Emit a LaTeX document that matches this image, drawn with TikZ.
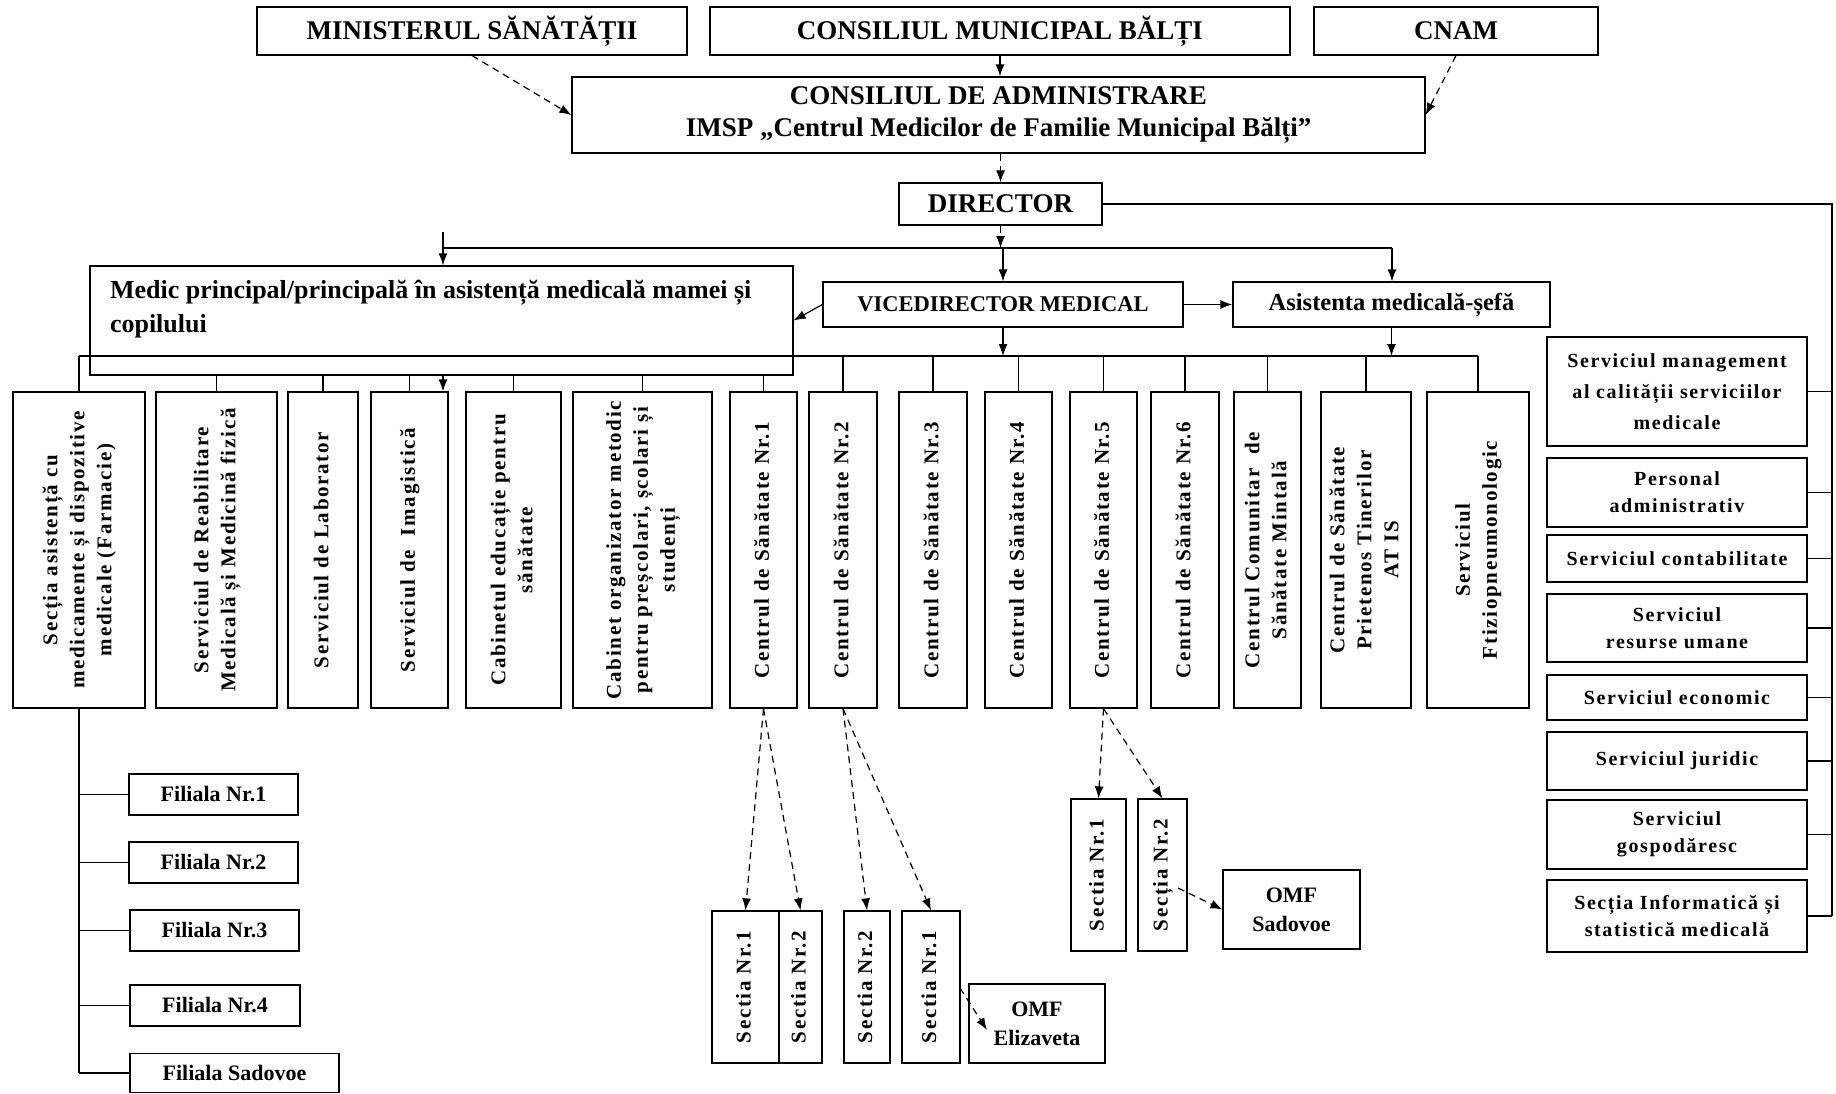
\documentclass[tikz,border=0pt]{standalone}
\usepackage{fontspec}
\setmainfont{Liberation Serif}
\newfontfamily\spaced{Liberation Serif}[LetterSpace=8]
\usetikzlibrary{arrows.meta}
\newcommand{\vtext}[1]{\rotatebox{90}{\begin{tabular}{@{}c@{}}#1\end{tabular}}}
\tikzset{
  base/.style={draw, line width=1.2pt, inner sep=0pt, align=center},
  topbox/.style={base, font=\bfseries\fontsize{27}{32}\selectfont},
  vbox/.style={base, minimum height=316pt, font=\spaced\bfseries\fontsize{21}{27}\selectfont},
  rbox/.style={base, minimum width=260pt, font=\spaced\bfseries\fontsize{20}{27}\selectfont},
  filbox/.style={base, font=\bfseries\fontsize{22}{29}\selectfont},
  sbox/.style={base, minimum height=152pt, font=\spaced\bfseries\fontsize{21}{25}\selectfont},
  conn/.style={line width=1.2pt},
  arr/.style={conn, -{Latex[length=12pt,width=9pt]}},
  darr/.style={arr, dash pattern=on 7pt off 5pt},
}
\begin{document}
\begin{tikzpicture}[x=1pt,y=-1pt]
\fill[white] (0,0) rectangle (1836,1094);
\useasboundingbox (0,0) rectangle (1836,1094);

% top row
\node[topbox, minimum width=430pt, minimum height=48pt] (min) at (472,31) {MINISTERUL SĂNĂTĂȚII};
\node[topbox, minimum width=580pt, minimum height=48pt] (cmb) at (1000,31) {CONSILIUL MUNICIPAL BĂLȚI};
\node[topbox, minimum width=284pt, minimum height=48pt] (cnam) at (1456,31) {CNAM};
\node[topbox, minimum width=853pt, minimum height=76pt] (cda) at (998.5,115) {CONSILIUL DE ADMINISTRARE\\IMSP „Centrul Medicilor de Familie Municipal Bălți”};
\node[topbox, minimum width=203pt, minimum height=42pt] (dir) at (1000.5,204) {DIRECTOR};

% second level
\node[base, font=\bfseries\fontsize{26}{34}\selectfont, inner xsep=20pt] (medic) at (441.5,320.5)
  {\begin{minipage}[c][109pt][t]{663pt}\raggedright\vspace*{14pt}Medic principal/principală în asistență medicală mamei și\\copilului\end{minipage}};
\node[base, font=\bfseries\fontsize{22.5}{27}\selectfont, minimum width=360pt, minimum height=45pt] (vice) at (1003,304.5) {VICEDIRECTOR MEDICAL};
\node[base, font=\bfseries\fontsize{24.5}{29}\selectfont, minimum width=317pt, minimum height=45pt] (asis) at (1391.5,304.5) {Asistenta medicală-șefă};

% vertical boxes
\node[vbox, minimum width=132pt] (sectia) at (79,550) {\vtext{Secția asistență cu\\medicamente și dispozitive\\medicale (Farmacie)}};
\node[vbox, minimum width=121pt] (reab) at (216.5,550) {\vtext{Serviciul de Reabilitare\\Medicală și Medicină fizică}};
\node[vbox, minimum width=70pt] (lab) at (323,550) {\vtext{Serviciul de Laborator}};
\node[vbox, minimum width=77pt] (imag) at (409.5,550) {\vtext{Serviciul de~ Imagistică}};
\node[vbox, minimum width=95pt] (cabed) at (513.5,550) {\vtext{Cabinetul educație pentru\\sănătate}};
\node[vbox, minimum width=139pt] (cabor) at (642.5,550) {\vtext{Cabinet organizator metodic\\pentru preșcolari, școlari și\\studenți}};
\node[vbox, minimum width=67pt] (cs1) at (763.5,550) {\vtext{Centrul de Sănătate Nr.1}};
\node[vbox, minimum width=68pt] (cs2) at (843,550) {\vtext{Centrul de Sănătate Nr.2}};
\node[vbox, minimum width=68pt] (cs3) at (933,550) {\vtext{Centrul de Sănătate Nr.3}};
\node[vbox, minimum width=67pt] (cs4) at (1018.5,550) {\vtext{Centrul de Sănătate Nr.4}};
\node[vbox, minimum width=67pt] (cs5) at (1103.5,550) {\vtext{Centrul de Sănătate Nr.5}};
\node[vbox, minimum width=68pt] (cs6) at (1185,550) {\vtext{Centrul de Sănătate Nr.6}};
\node[vbox, minimum width=67pt] (ccsm) at (1267.5,550) {\vtext{Centrul Comunitar~ de\\Sănătate Mintală}};
\node[vbox, minimum width=90pt] (pri) at (1366,550) {\vtext{Centrul de Sănătate\\Prietenos Tinerilor\\AT IS}};
\node[vbox, minimum width=102pt] (fti) at (1478,550) {\vtext{Serviciul\\Ftiziopneumonologic}};

% right column
\node[rbox, minimum height=109pt] (rc1) at (1677,391.5) {Serviciul management\\[4pt]al calității serviciilor\\[4pt]medicale};
\node[rbox, minimum height=69pt] (rc2) at (1677,492.5) {Personal\\administrativ};
\node[rbox, minimum height=47pt] (rc3) at (1677,558.5) {Serviciul contabilitate};
\node[rbox, minimum height=68pt] (rc4) at (1677,628) {Serviciul\\resurse umane};
\node[rbox, minimum height=45pt] (rc5) at (1677,697.5) {Serviciul economic};
\node[rbox, minimum height=58pt] (rc6) at (1677,761) {Serviciul juridic};
\node[rbox, minimum height=69pt] (rc7) at (1677,834.5) {Serviciul\\gospodăresc};
\node[rbox, minimum height=72pt] (rc8) at (1677,916) {Secția Informatică și\\statistică medicală};

% filiale
\node[filbox, minimum width=169pt, minimum height=41pt] (fil1) at (213.5,794.5) {Filiala Nr.1};
\node[filbox, minimum width=169pt, minimum height=41pt] (fil2) at (213.5,862.5) {Filiala Nr.2};
\node[filbox, minimum width=169pt, minimum height=41pt] (fil3) at (214.5,930.5) {Filiala Nr.3};
\node[filbox, minimum width=170pt, minimum height=41pt] (fil4) at (215,1005.5) {Filiala Nr.4};
\node[filbox, minimum width=209pt, minimum height=39pt] (filS) at (234.5,1073) {Filiala Sadovoe};

% sectii
\node[sbox, minimum width=67pt] (s11) at (745.5,987) {\vtext{Sectia Nr.1}};
\node[sbox, minimum width=43pt] (s12) at (800.5,987) {\vtext{Sectia Nr.2}};
\node[sbox, minimum width=46pt] (s22) at (867,987) {\vtext{Sectia Nr.2}};
\node[sbox, minimum width=58pt] (s21) at (931,987) {\vtext{Sectia Nr.1}};
\node[filbox, minimum width=136pt, minimum height=79pt] (omfE) at (1037,1023.5) {OMF\\Elizaveta};
\node[sbox, minimum width=55pt] (s51) at (1098.5,875) {\vtext{Sectia Nr.1}};
\node[sbox, minimum width=49pt] (s52) at (1162.5,875) {\vtext{Secția Nr.2}};
\node[filbox, minimum width=137pt, minimum height=79pt] (omfS) at (1291.5,909.5) {OMF\\Sadovoe};

% coordinates
\coordinate (busL) at (443,248);
\coordinate (busR) at (1392,248);
\coordinate (mstart) at (443,232);
\coordinate (bus2L) at (79,356);
\coordinate (bus2R) at (1478,356);
\coordinate (rtop) at (1832,204);
\coordinate (eStart) at (960,988);
\coordinate (eTip) at (987,1030);
\coordinate (sStart) at (1178,888);

% top connectors
\draw[darr] (min.south) -- (cda.west);
\draw[arr] (cmb.south) -- (cmb.south |- cda.north);
\draw[darr] (cnam.south) -- (cda.east);
\draw[darr] (dir.north |- cda.south) -- (dir.north);
\draw[darr] (dir.south) -- (dir.south |- busL);
\draw[conn] (busL) -- (busR);
\draw[arr] (mstart) -- (mstart |- medic.north);
\draw[arr] (vice.north |- busL) -- (vice.north);
\draw[arr] (busR) -- (busR |- asis.north);
\draw[arr] (vice.west) -- (medic.east);
\draw[arr] (vice.east) -- (asis.west);
\draw[arr] (vice.south) -- (vice.south |- bus2L);
\draw[arr] (asis.south) -- (asis.south |- bus2L);

% second bus
\draw[conn] (bus2L) -- (bus2R);
\draw[conn] (bus2L) -- (sectia.north);
\draw[conn] (bus2R) -- (fti.north);
\foreach \n in {reab,lab,imag,cabed,cabor,cs1}
  \draw[conn] (\n.north |- medic.south) -- (\n.north);
\draw[arr] (mstart |- medic.south) -- (mstart |- imag.north);
\foreach \n in {cs2,cs3,cs4,cs5,cs6,ccsm,pri}
  \draw[conn] (\n.north |- bus2L) -- (\n.north);

% right column
\draw[conn] (dir.east) -- (rtop) -- (rtop |- rc8.east);
\foreach \n in {rc1,rc2,rc3,rc4,rc5,rc6,rc7,rc8}
  \draw[conn] (\n.east) -- (rtop |- \n.east);

% filiale
\draw[conn] (sectia.south) -- (sectia.south |- filS.west);
\foreach \n in {fil1,fil2,fil3,fil4,filS}
  \draw[conn] (sectia.south |- \n.west) -- (\n.west);

% sectii
\draw[darr] (cs1.south) -- (s11.north);
\draw[darr] (cs1.south) -- (s12.north);
\draw[darr] (cs2.south) -- (s22.north);
\draw[darr] (cs2.south) -- (s21.north);
\draw[darr] (cs5.south) -- (s51.north);
\draw[darr] (cs5.south) -- (s52.north);
\draw[darr] (eStart) -- (eTip);
\draw[darr] (sStart) -- (omfS.west);
\end{tikzpicture}
\end{document}
